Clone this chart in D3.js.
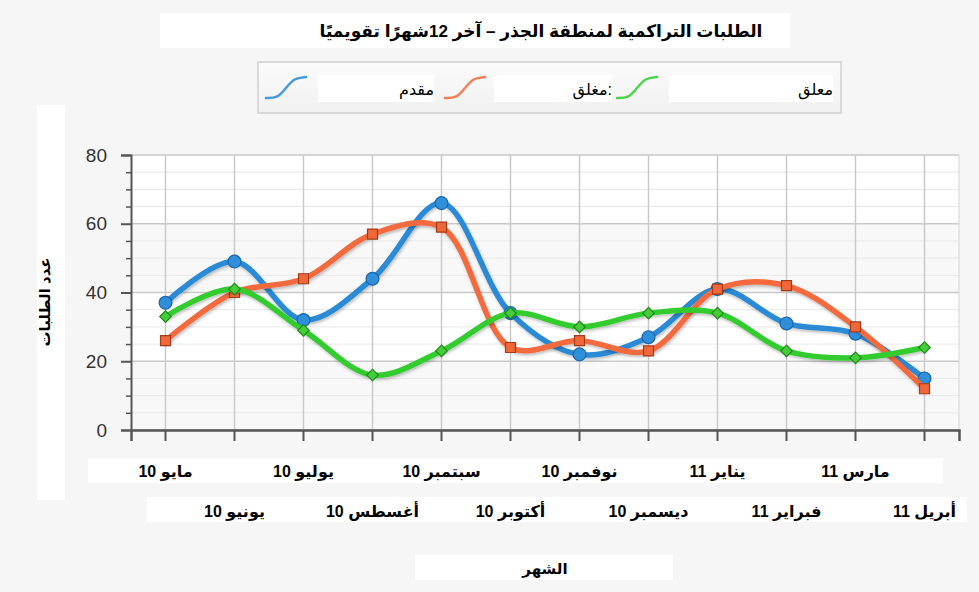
<!DOCTYPE html>
<html lang="ar">
<head>
<meta charset="utf-8">
<title>الطلبات التراكمية</title>
<script src="https://cdn.jsdelivr.net/npm/d3@7/dist/d3.min.js"></script>
<style>
  body { margin: 0; background: #f6f6f6; font-family: "Liberation Sans", "DejaVu Sans", Arial, sans-serif; }
  svg text { font-family: "Liberation Sans", "DejaVu Sans", Arial, sans-serif; }
</style>
</head>
<body>
<div id="vis"></div>
<script>
// data
const months = ["مايو 10", "يونيو 10", "يوليو 10", "أغسطس 10", "سبتمبر 10", "أكتوبر 10",
                "نوفمبر 10", "ديسمبر 10", "يناير 11", "فبراير 11", "مارس  11", "أبريل 11"];
const submitted = [37, 49, 32, 44, 66, 34, 22, 27, 41, 31, 28, 15];   // مقدم
const closed    = [26, 40, 44, 57, 59, 24, 26, 23, 41, 42, 30, 12];   // مغلق
const pending   = [33, 41, 29, 16, 23, 34, 30, 34, 34, 23, 21, 24];   // معلق
const yTicks = [0, 20, 40, 60, 80];

const width = 979, height = 592;
const plot = { left: 131, right: 959, top: 155, bottom: 430 };

const svg = d3.select('#vis').append('svg')
  .attr('width', width).attr('height', height);

const defs = svg.append('defs');
defs.append('filter').attr('id', 'shadow')
  .attr('x', '-10%').attr('y', '-10%').attr('width', '120%').attr('height', '130%')
  .append('feDropShadow')
  .attr('dx', 1).attr('dy', 2).attr('stdDeviation', 1.5)
  .attr('flood-color', '#000').attr('flood-opacity', 0.25);
const lg = defs.append('linearGradient').attr('id', 'legendBg')
  .attr('x1', 0).attr('y1', 0).attr('x2', 0).attr('y2', 1);
lg.append('stop').attr('offset', '0%').attr('stop-color', '#fbfbfb');
lg.append('stop').attr('offset', '100%').attr('stop-color', '#f1f1f1');

// background
svg.append('rect').attr('width', width).attr('height', height).attr('fill', '#f6f6f6');

// white patches behind the texts
const patches = [
  [160, 13, 630, 35],   // title
  [37, 105, 28, 395],   // y title
  [88, 458, 855, 25],   // x labels row 1
  [147, 497, 820, 25],  // x labels row 2
  [415, 555, 258, 25]   // x title
];
svg.selectAll('.patch').data(patches).enter().append('rect')
  .attr('x', d => d[0]).attr('y', d => d[1])
  .attr('width', d => d[2]).attr('height', d => d[3])
  .attr('fill', '#fff');

// scales
const x = d3.scaleBand().domain(months).range([plot.left, plot.right]);
const cx = d => x(d) + x.bandwidth() / 2;
const y = d3.scaleLinear().domain([0, 80]).range([plot.bottom, plot.top]);

// plot background with faint bands
svg.append('rect')
  .attr('x', plot.left).attr('y', plot.top)
  .attr('width', plot.right - plot.left).attr('height', plot.bottom - plot.top)
  .attr('fill', '#fff');
svg.selectAll('.band').data(d3.range(0, 80, 20)).enter().append('rect')
  .attr('x', plot.left).attr('width', plot.right - plot.left)
  .attr('y', d => y(d + 20)).attr('height', d => y(d) - y(d + 20))
  .attr('fill', (d, i) => i % 2 === 0 ? '#f8f8f8' : '#fff');

// grid
const minor = d3.range(0, 81, 5);
svg.selectAll('.hgrid').data(minor).enter().append('line')
  .attr('x1', plot.left).attr('x2', plot.right)
  .attr('y1', d => y(d)).attr('y2', d => y(d))
  .attr('stroke', d => d % 20 === 0 ? '#c9c9c9' : '#e8e8e8')
  .attr('stroke-width', d => d % 20 === 0 ? 1.5 : 1);
svg.selectAll('.vgrid').data(months).enter().append('line')
  .attr('x1', cx).attr('x2', cx)
  .attr('y1', plot.top).attr('y2', plot.bottom)
  .attr('stroke', '#c9c9c9').attr('stroke-width', 1.5);
svg.append('line')
  .attr('x1', plot.right).attr('x2', plot.right)
  .attr('y1', plot.top).attr('y2', plot.bottom)
  .attr('stroke', '#d4d4d4');

// y axis
const yAxis = d3.axisLeft(y).tickValues(yTicks).tickSize(10).tickPadding(14);
const ya = svg.append('g').attr('transform', `translate(${plot.left},0)`).call(yAxis);
ya.select('.domain').attr('stroke', '#555').attr('stroke-width', 2);
ya.selectAll('.tick line').attr('stroke', '#555').attr('stroke-width', 2);
ya.selectAll('.tick text').attr('fill', '#333').style('font-size', '19px');
const yMinor = d3.axisLeft(y).tickValues(minor.filter(d => d % 20 !== 0)).tickSize(5).tickFormat('');
const ym = svg.append('g').attr('transform', `translate(${plot.left},0)`).call(yMinor);
ym.select('.domain').remove();
ym.selectAll('.tick line').attr('stroke', '#555').attr('stroke-width', 1.5);

// x axis
const xAxis = d3.axisBottom(x).tickSize(11).tickFormat('');
const xa = svg.append('g').attr('transform', `translate(0,${plot.bottom})`).call(xAxis);
xa.select('.domain').attr('stroke', '#555').attr('stroke-width', 2.5);
xa.selectAll('.tick line').attr('stroke', '#555').attr('stroke-width', 2);

// month labels, staggered on two rows
svg.selectAll('.mlabel').data(months).enter().append('text')
  .attr('x', cx)
  .attr('y', (d, i) => i % 2 === 0 ? 477 : 517)
  .attr('text-anchor', 'middle')
  .attr('direction', 'rtl')
  .style('unicode-bidi', 'embed')
  .style('font-size', '16px').style('font-weight', 'bold')
  .attr('fill', '#000')
  .text(d => d);

// series
const series = [
  { name: 'مقدم', values: submitted, color: '#2a8ad6', mark: 'circle', fill: '#2f8fdb', edge: '#1b66a8' },
  { name: 'مغلق:', values: closed, color: '#f26b3d', mark: 'square', fill: '#f0683a', edge: '#a53a18' },
  { name: 'معلق', values: pending, color: '#33cc2e', mark: 'diamond', fill: '#45cc38', edge: '#1f8a1a' }
];

const line = d3.line()
  .x((d, i) => cx(months[i]))
  .y(d => y(d))
  .curve(d3.curveCatmullRom.alpha(0.5));

const symbolOf = {
  circle: { gen: d3.symbol().type(d3.symbolCircle).size(130), rot: 0 },
  square: { gen: d3.symbol().type(d3.symbolSquare).size(100), rot: 0 },
  diamond: { gen: d3.symbol().type(d3.symbolSquare).size(66), rot: 45 }
};

series.forEach(s => {
  const g = svg.append('g');
  g.append('path')
    .attr('d', line(s.values))
    .attr('fill', 'none')
    .attr('stroke', s.color)
    .attr('stroke-width', 5.5)
    .attr('stroke-linecap', 'round')
    .attr('filter', 'url(#shadow)');
  const sym = symbolOf[s.mark];
  g.selectAll('.pt').data(s.values).enter().append('path')
    .attr('transform', (d, i) => `translate(${cx(months[i])},${y(d)}) rotate(${sym.rot})`)
    .attr('d', sym.gen())
    .attr('fill', s.fill)
    .attr('stroke', s.edge)
    .attr('stroke-width', 1.2);
});

// title
svg.append('text')
  .attr('x', 541).attr('y', 37)
  .attr('text-anchor', 'middle')
  .attr('direction', 'rtl')
  .style('unicode-bidi', 'embed')
  .style('font-size', '17px').style('font-weight', 'bold')
  .text('الطلبات التراكمية لمنطقة الجذر – آخر  12شهرًا تقويميًا');

// legend
const legend = svg.append('g');
legend.append('rect')
  .attr('x', 258).attr('y', 62).attr('width', 583).attr('height', 51)
  .attr('fill', 'url(#legendBg)').attr('stroke', '#cfcfcf').attr('stroke-width', 1.5);
const legendItems = [
  { s: series[0], swatch: 266, box: [318, 116] },
  { s: series[1], swatch: 445, box: [494, 118] },
  { s: series[2], swatch: 617, box: [669, 164] }
];
const swatchLine = d3.line().curve(d3.curveBasis);
legendItems.forEach(it => {
  legend.append('rect')
    .attr('x', it.box[0]).attr('y', 75).attr('width', it.box[1]).attr('height', 27)
    .attr('fill', '#fff');
  const sx = it.swatch;
  legend.append('path')
    .attr('d', swatchLine([[sx, 98], [sx + 12, 98], [sx + 20, 88], [sx + 28, 78], [sx + 40, 77]]))
    .attr('fill', 'none')
    .attr('stroke', it.s.color)
    .attr('stroke-width', 2.5)
    .attr('stroke-linecap', 'round')
    .attr('opacity', 0.85);
  legend.append('text')
    .attr('x', it.box[0] + it.box[1]).attr('y', 95)
    .attr('text-anchor', 'end')
    .style('font-size', '16px')
    .attr('fill', '#000')
    .text(it.s.name);
});

// axis titles
svg.append('text')
  .attr('transform', 'translate(50,302) rotate(-90)')
  .attr('text-anchor', 'middle')
  .attr('direction', 'rtl')
  .style('unicode-bidi', 'embed')
  .style('font-size', '15px').style('font-weight', 'bold')
  .text('عدد الطلبات');

svg.append('text')
  .attr('x', 545).attr('y', 574)
  .attr('text-anchor', 'middle')
  .attr('direction', 'rtl')
  .style('unicode-bidi', 'embed')
  .style('font-size', '15px').style('font-weight', 'bold')
  .text('الشهر');
</script>
</body>
</html>
